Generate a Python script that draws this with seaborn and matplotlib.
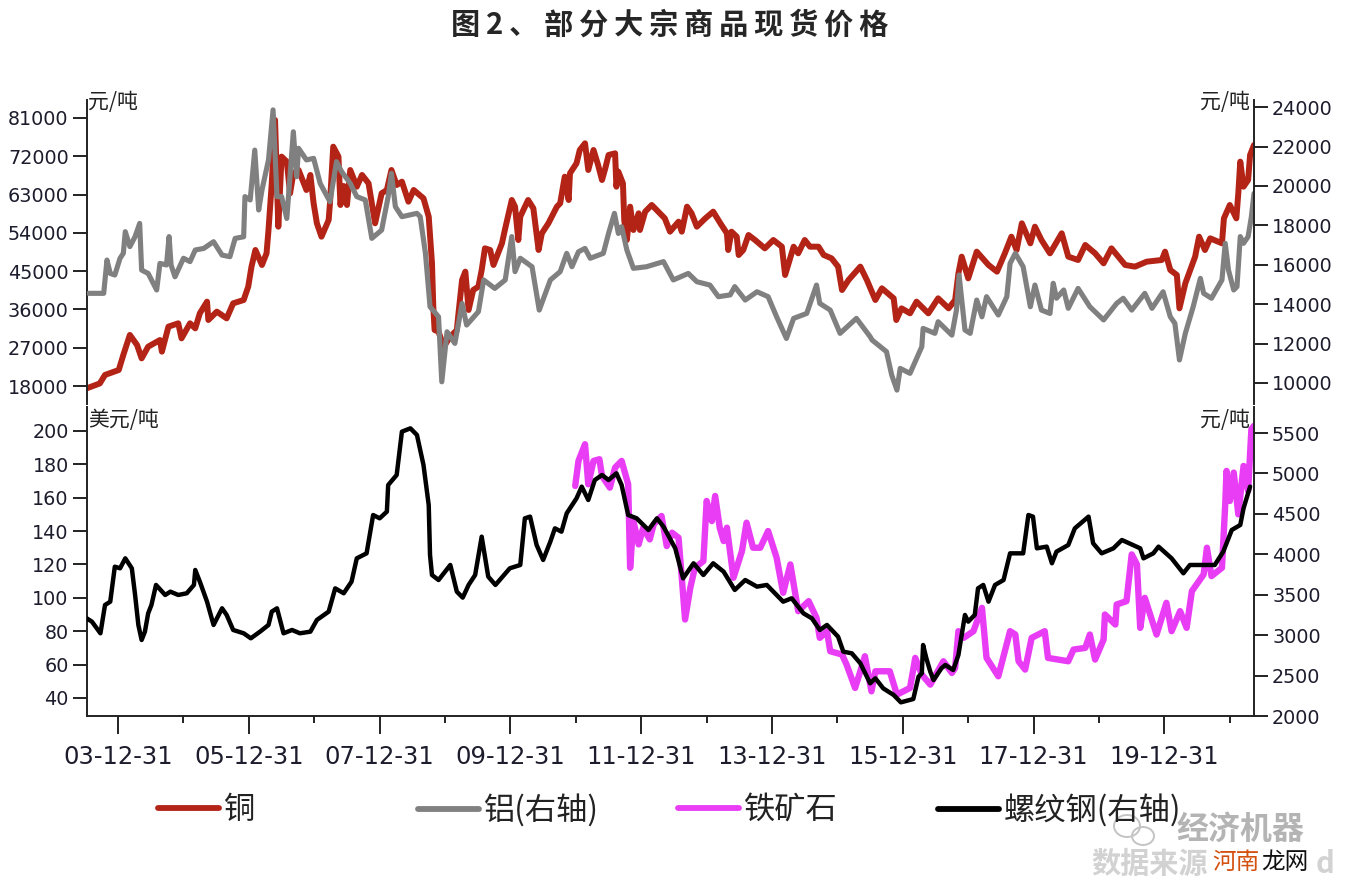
import matplotlib
matplotlib.use("Agg")
import matplotlib.pyplot as plt
import seaborn as sns
from matplotlib.patches import Ellipse

# time is stored as decimal years, 2004.0 is the 03-12-31 tick
copper_t = [2003.52,2003.72,2003.80,2004.01,2004.08,2004.18,2004.29,2004.36,2004.46,2004.64,2004.67,2004.77,2004.92,2004.97,2005.10,2005.18,2005.25,2005.36,2005.38,2005.51,2005.66,2005.76,2005.92,2005.99,2006.04,2006.10,2006.20,2006.27,2006.30,2006.35,2006.40,2006.45,2006.50,2006.58,2006.63,2006.68,2006.76,2006.88,2006.94,2006.99,2007.04,2007.11,2007.22,2007.24,2007.29,2007.37,2007.40,2007.45,2007.50,2007.55,2007.65,2007.73,2007.83,2007.93,2008.03,2008.11,2008.18,2008.26,2008.34,2008.44,2008.52,2008.67,2008.75,2008.80,2008.82,2008.84,2008.90,2008.98,2009.08,2009.18,2009.20,2009.26,2009.31,2009.36,2009.43,2009.51,2009.56,2009.61,2009.69,2009.74,2009.87,2009.92,2010.02,2010.07,2010.12,2010.15,2010.27,2010.35,2010.43,2010.48,2010.58,2010.71,2010.76,2010.83,2010.89,2010.91,2011.01,2011.06,2011.14,2011.19,2011.27,2011.34,2011.40,2011.45,2011.50,2011.60,2011.62,2011.65,2011.72,2011.74,2011.78,2011.83,2011.88,2011.96,2011.98,2012.06,2012.16,2012.26,2012.36,2012.44,2012.57,2012.62,2012.70,2012.77,2012.85,2012.98,2013.10,2013.21,2013.31,2013.33,2013.38,2013.46,2013.49,2013.56,2013.64,2013.74,2013.89,2014.02,2014.15,2014.20,2014.33,2014.40,2014.50,2014.58,2014.71,2014.79,2014.91,2015.01,2015.07,2015.17,2015.35,2015.45,2015.58,2015.68,2015.86,2015.90,2015.98,2016.11,2016.21,2016.39,2016.54,2016.70,2016.80,2016.85,2016.90,2017.00,2017.13,2017.31,2017.44,2017.56,2017.66,2017.74,2017.82,2017.95,2018.02,2018.12,2018.25,2018.43,2018.53,2018.68,2018.79,2018.94,2019.07,2019.19,2019.40,2019.55,2019.73,2019.96,2020.01,2020.09,2020.19,2020.23,2020.32,2020.47,2020.53,2020.62,2020.70,2020.88,2020.91,2021.00,2021.10,2021.13,2021.16,2021.21,2021.28,2021.31,2021.37]
copper = [17450,18600,20600,21760,25300,30000,27640,24500,27250,28800,26070,31950,32730,29200,32730,31550,35080,37820,33510,35470,33900,37430,38210,41350,46050,49960,46440,49180,54660,65630,80510,55440,71900,70720,63280,68000,68760,64060,67590,60930,56230,53090,57010,60930,74240,71900,60540,65000,60540,68760,64840,67590,65630,56230,63280,64060,68760,65230,66020,61320,64060,62100,57790,46830,36650,31160,30770,27250,29600,31160,34300,42910,44870,35860,40560,41350,45260,50350,49960,46440,51530,55050,61710,60140,52310,57800,61710,59750,49960,53880,56230,60140,60930,67190,61710,67980,70330,73460,75030,68760,73460,69940,66410,69150,72290,72680,64840,68370,65630,57010,52310,60140,54660,58580,54660,58970,60540,58970,57400,54270,56620,54270,60140,58580,55440,57400,58970,56230,53880,49960,54270,53090,48790,49960,53480,52310,50350,52310,50740,44090,50740,49180,52310,50740,50740,48790,48000,46050,40560,42910,46050,42910,38210,40950,38600,33510,36250,35080,37820,35080,38600,36250,38210,44480,48400,43300,49570,46440,44870,49180,53090,49960,56230,51530,55440,52310,49180,53880,48400,47610,51140,49180,46830,50350,46440,46050,47220,47610,49570,45260,44090,36250,42130,48400,53090,49960,52700,51530,57400,60540,57400,63280,70720,64840,66410,72290,74640]

alu_t = [2003.55,2003.78,2003.83,2003.88,2003.95,2004.03,2004.08,2004.11,2004.18,2004.26,2004.33,2004.36,2004.46,2004.59,2004.64,2004.74,2004.78,2004.81,2004.87,2005.00,2005.10,2005.18,2005.31,2005.46,2005.59,2005.71,2005.79,2005.92,2005.94,2006.02,2006.09,2006.15,2006.20,2006.30,2006.37,2006.43,2006.50,2006.58,2006.68,2006.73,2006.76,2006.88,2006.99,2007.09,2007.24,2007.34,2007.42,2007.55,2007.65,2007.78,2007.88,2008.03,2008.13,2008.18,2008.24,2008.34,2008.57,2008.62,2008.70,2008.77,2008.90,2008.95,2009.00,2009.03,2009.15,2009.26,2009.33,2009.51,2009.59,2009.76,2009.92,2010.02,2010.07,2010.15,2010.33,2010.44,2010.61,2010.76,2010.86,2010.94,2011.04,2011.14,2011.22,2011.42,2011.50,2011.59,2011.65,2011.70,2011.78,2011.88,2012.08,2012.34,2012.49,2012.72,2012.85,2013.05,2013.18,2013.36,2013.43,2013.59,2013.77,2013.94,2014.07,2014.22,2014.33,2014.53,2014.68,2014.73,2014.89,2015.04,2015.29,2015.50,2015.53,2015.75,2015.83,2015.91,2015.96,2016.11,2016.29,2016.31,2016.49,2016.54,2016.75,2016.82,2016.86,2016.95,2017.03,2017.13,2017.21,2017.28,2017.46,2017.59,2017.64,2017.72,2017.84,2017.95,2018.02,2018.12,2018.25,2018.30,2018.35,2018.46,2018.53,2018.68,2018.86,2019.07,2019.27,2019.37,2019.50,2019.70,2019.81,2019.98,2020.09,2020.16,2020.23,2020.32,2020.44,2020.55,2020.60,2020.72,2020.88,2020.93,2020.98,2021.06,2021.11,2021.16,2021.21,2021.28,2021.33,2021.37]
alu = [14550,14550,16240,15560,15480,16330,16580,17680,16920,17430,18100,15730,15560,14720,16070,15990,17430,15990,15390,16330,16160,16750,16830,17170,16490,16410,17340,17420,19460,19290,21820,18780,19790,21320,23860,19460,19460,18350,22750,20470,21910,21320,21400,20130,19200,21230,20720,20130,19460,19290,17340,17760,19460,20640,18950,18440,18610,18440,16580,13870,13360,10060,11670,12600,12010,14040,12940,13620,15230,14800,15230,17430,15650,16330,15900,13700,15230,15650,16580,15900,16660,16830,16330,16580,17590,18610,17590,17930,16750,15820,15900,16160,15230,15560,15140,14970,14380,14470,14890,14210,14630,14380,13360,12260,13280,13530,14970,14040,13700,12520,13280,12350,12180,11590,10400,9640,10740,10490,11840,12770,12520,13110,12430,13700,15480,12690,12520,14210,13360,14380,13450,14380,16070,16580,15900,13870,14970,13700,13530,15060,14300,14720,13790,14800,13870,13200,14040,14300,13700,14550,13790,14630,13360,13030,11170,12520,13870,15310,14550,14300,15230,17090,15730,14720,14890,17430,17090,17430,18440,19620]

ore_t = [2010.99,2011.04,2011.14,2011.19,2011.27,2011.36,2011.40,2011.52,2011.60,2011.70,2011.80,2011.83,2011.88,2011.96,2012.03,2012.13,2012.19,2012.31,2012.39,2012.47,2012.57,2012.62,2012.67,2012.75,2012.82,2012.95,2013.00,2013.08,2013.13,2013.20,2013.26,2013.31,2013.41,2013.54,2013.61,2013.71,2013.82,2013.94,2014.07,2014.17,2014.28,2014.40,2014.56,2014.68,2014.73,2014.84,2014.89,2015.07,2015.14,2015.27,2015.35,2015.42,2015.52,2015.58,2015.80,2015.91,2016.01,2016.11,2016.19,2016.29,2016.42,2016.62,2016.75,2016.80,2016.85,2016.93,2017.08,2017.21,2017.28,2017.46,2017.64,2017.72,2017.77,2017.87,2017.97,2018.17,2018.22,2018.53,2018.61,2018.79,2018.86,2018.94,2019.07,2019.09,2019.25,2019.27,2019.42,2019.50,2019.58,2019.63,2019.70,2019.88,2020.03,2020.11,2020.24,2020.34,2020.42,2020.60,2020.65,2020.72,2020.88,2020.93,2020.95,2021.00,2021.06,2021.13,2021.21,2021.28,2021.33,2021.37]
ore = [167,182,192,168,182,183,173,166,178,182,168,118,146,132,142,135,144,149,131,139,136,112,87,106,118,122,158,146,161,142,134,142,112,128,145,130,130,140,124,103,120,92,98,88,76,80,68,66,60,46,56,65,44,56,56,42,44,46,64,54,48,62,55,58,80,76,80,94,64,53,80,78,62,57,76,80,64,62,69,70,78,63,75,90,84,96,98,126,120,82,100,78,97,80,92,82,104,114,130,113,118,156,176,158,175,150,179,164,201,203]

rebar_t = [2003.52,2003.60,2003.73,2003.80,2003.88,2003.95,2004.03,2004.11,2004.21,2004.26,2004.31,2004.36,2004.41,2004.46,2004.51,2004.58,2004.72,2004.80,2004.92,2005.05,2005.16,2005.18,2005.25,2005.36,2005.46,2005.59,2005.66,2005.76,2005.92,2006.03,2006.17,2006.30,2006.35,2006.43,2006.53,2006.66,2006.78,2006.94,2007.04,2007.22,2007.32,2007.45,2007.57,2007.65,2007.80,2007.90,2008.00,2008.11,2008.13,2008.26,2008.34,2008.47,2008.57,2008.67,2008.75,2008.77,2008.80,2008.90,2009.08,2009.18,2009.27,2009.36,2009.46,2009.56,2009.66,2009.77,2009.99,2010.15,2010.22,2010.30,2010.40,2010.50,2010.61,2010.68,2010.78,2010.86,2011.01,2011.09,2011.19,2011.29,2011.40,2011.50,2011.62,2011.70,2011.80,2011.93,2012.11,2012.24,2012.34,2012.52,2012.64,2012.80,2012.95,2013.10,2013.26,2013.43,2013.59,2013.77,2013.92,2014.17,2014.30,2014.48,2014.61,2014.73,2014.84,2015.01,2015.09,2015.22,2015.35,2015.50,2015.58,2015.70,2015.86,2015.97,2016.16,2016.24,2016.29,2016.31,2016.36,2016.42,2016.47,2016.59,2016.65,2016.77,2016.85,2016.95,2017.00,2017.10,2017.15,2017.23,2017.31,2017.41,2017.54,2017.64,2017.84,2017.92,2017.99,2018.05,2018.20,2018.28,2018.35,2018.53,2018.63,2018.84,2018.91,2019.04,2019.22,2019.35,2019.63,2019.68,2019.83,2019.91,2020.11,2020.29,2020.39,2020.60,2020.77,2020.90,2021.03,2021.16,2021.21,2021.31]
rebar = [3208,3167,3023,3373,3414,3847,3827,3950,3827,3497,3126,2940,3043,3270,3373,3621,3497,3538,3497,3518,3621,3806,3662,3414,3126,3332,3250,3064,3023,2961,3043,3126,3291,3332,3023,3064,3023,3043,3188,3291,3579,3518,3662,3950,4012,4486,4445,4528,4857,4981,5517,5558,5476,5105,4610,3992,3744,3682,3868,3538,3464,3621,3744,4218,3724,3621,3827,3868,4445,4466,4115,3930,4157,4321,4280,4507,4692,4837,4672,4919,4981,4919,5002,4857,4486,4445,4301,4445,4342,4074,3703,3889,3744,3889,3785,3559,3682,3600,3621,3414,3456,3270,3208,3064,3126,2981,2796,2775,2652,2404,2466,2342,2260,2169,2210,2487,2528,2878,2713,2548,2445,2590,2631,2569,2755,3250,3167,3250,3579,3621,3414,3621,3682,4012,4012,4486,4466,4074,4095,3889,4033,4115,4321,4466,4136,4012,4074,4177,4074,3950,4012,4095,3950,3765,3868,3868,3868,4033,4301,4363,4569,4837]

major_years = [2004,2006,2008,2010,2012,2014,2016,2018,2020]
minor_years = [2005,2007,2009,2011,2013,2015,2017,2019,2021]
date_labels = ["03-12-31","05-12-31","07-12-31","09-12-31","11-12-31","13-12-31","15-12-31","17-12-31","19-12-31"]
copper_ticks = [18000,27000,36000,45000,54000,63000,72000,81000]
alu_ticks = [10000,12000,14000,16000,18000,20000,22000,24000]
ore_ticks = [40,60,80,100,120,140,160,180,200]
rebar_ticks = [2000,2500,3000,3500,4000,4500,5000,5500]

RED, GREY, PINK, BLACK = "#b32417", "#808080", "#e93cf5", "#000000"
AXC = "#222222"
W, H = 1348, 896

sns.set_theme(style="white")
plt.rcParams["font.family"] = ["Noto Sans CJK SC", "DejaVu Sans"]


def px_axes(left, top, right, bottom):
    return fig.add_axes([left / W, 1 - bottom / H, (right - left) / W, (bottom - top) / H])


def style_axis(ax, ticks, side):
    ax.set_yticks(ticks)
    ax.set_yticklabels([str(t) for t in ticks], family="DejaVu Sans", fontsize=13.8, color="#1c1c2c")
    ax.tick_params(axis="y", which="major", length=10, width=1.4, color=AXC, pad=3,
                   left=side == "left", right=side == "right",
                   labelleft=side == "left", labelright=side == "right")
    ax.set_ylabel("")
    ax.set_xlabel("")
    for s in ax.spines.values():
        s.set_visible(False)
    ax.spines[side].set_visible(True)
    ax.spines[side].set_linewidth(1.4)
    ax.spines[side].set_color(AXC)


fig = plt.figure(figsize=(W / 100, H / 100), dpi=100)

# top panel: copper left, aluminium right
top = px_axes(86.7, 100, 1254, 404)
sns.lineplot(x=copper_t, y=copper, ax=top, color=RED, linewidth=4.3, estimator=None, sort=False)
top.set_xlim(2003.52, 2021.37)
top.set_ylim(13770, 85210)
top.set_xticks([])
style_axis(top, copper_ticks, "left")

top_r = top.twinx()
sns.lineplot(x=alu_t, y=alu, ax=top_r, color=GREY, linewidth=3.7, estimator=None, sort=False)
top_r.set_ylim(8934, 24362)
top_r.set_xlim(2003.52, 2021.37)
style_axis(top_r, alu_ticks, "right")

# bottom panel: iron ore left, rebar right
bot = px_axes(86.7, 407, 1254, 716)
sns.lineplot(x=ore_t, y=ore, ax=bot, color=PINK, linewidth=4.6, estimator=None, sort=False)
bot.set_xlim(2003.52, 2021.37)
bot.set_ylim(29.2, 214.3)
style_axis(bot, ore_ticks, "left")
bot.spines["bottom"].set_visible(True)
bot.spines["bottom"].set_linewidth(1.4)
bot.spines["bottom"].set_color(AXC)
bot.set_xticks(major_years)
bot.set_xticklabels(date_labels, family="DejaVu Sans", fontsize=17.5, color="#1c1c2c")
bot.set_xticks(minor_years, minor=True)
bot.tick_params(axis="x", which="major", bottom=True, length=13, width=1.4, color=AXC, pad=8)
bot.tick_params(axis="x", which="minor", bottom=True, length=5, width=1.4, color=AXC)

bot_r = bot.twinx()
sns.lineplot(x=rebar_t, y=rebar, ax=bot_r, color=BLACK, linewidth=3.2, estimator=None, sort=False)
bot_r.set_ylim(2000, 5822)
bot_r.set_xlim(2003.52, 2021.37)
style_axis(bot_r, rebar_ticks, "right")

# units
unit_style = dict(fontsize=15, color="#222222", va="center")
fig.text(88 / W, 1 - 102 / H, "元/吨", ha="left", **unit_style)
fig.text(1250 / W, 1 - 102 / H, "元/吨", ha="right", **unit_style)
fig.text(88 / W, 1 - 420 / H, "美元/吨", ha="left", **unit_style)
fig.text(1250 / W, 1 - 420 / H, "元/吨", ha="right", **unit_style)

fig.text(670 / W, 1 - 25 / H, "图\u20092\u2009、\u2009部\u2009分\u2009大\u2009宗\u2009商\u2009品\u2009现\u2009货\u2009价\u2009格",
         ha="center", va="center", fontsize=21, fontweight="bold", color="#262626")

# legend, four evenly spaced entries
legend_names = ["铜", "铝(右轴)", "铁矿石", "螺纹钢(右轴)"]
legend_colors = [RED, GREY, PINK, BLACK]
legend_lefts = [158, 418, 678, 938]
for name, col, lx in zip(legend_names, legend_colors, legend_lefts):
    h = plt.Line2D([], [], color=col, linewidth=4.2)
    leg = fig.legend([h], [name], loc="center left", bbox_to_anchor=(lx / W, 1 - 810 / H),
                     frameon=False, fontsize=22.5, handlelength=1.95, handletextpad=0.15,
                     borderpad=0, borderaxespad=0)
    leg.get_texts()[0].set_color("#222222")

# watermark bottom right
for ex, ey, ew, eh in [(1127, 826, 26, 22), (1143, 836, 22, 18)]:
    fig.add_artist(Ellipse((ex / W, 1 - ey / H), ew / W, eh / H, transform=fig.transFigure,
                           fill=False, edgecolor="#c4c4c4", linewidth=1.4))
fig.text(1176 / W, 1 - 830 / H, "经济机器", fontsize=23, fontweight="bold", color="#b4b4b4", ha="left", va="center")
fig.text(1091 / W, 1 - 864 / H, "数据来源", fontsize=21, fontweight="bold", color="#d2d2d2", ha="left", va="center")
fig.text(1212 / W, 1 - 862 / H, "河南", fontsize=17, color="#d4500f", ha="left", va="center")
fig.text(1261 / W, 1 - 862 / H, "龙网", fontsize=17, color="#111111", ha="left", va="center")
fig.text(1316 / W, 1 - 864 / H, "d", fontsize=21, fontweight="bold", color="#d2d2d2", ha="left", va="center")

fig.savefig("out.png", dpi=100)
plt.close(fig)
